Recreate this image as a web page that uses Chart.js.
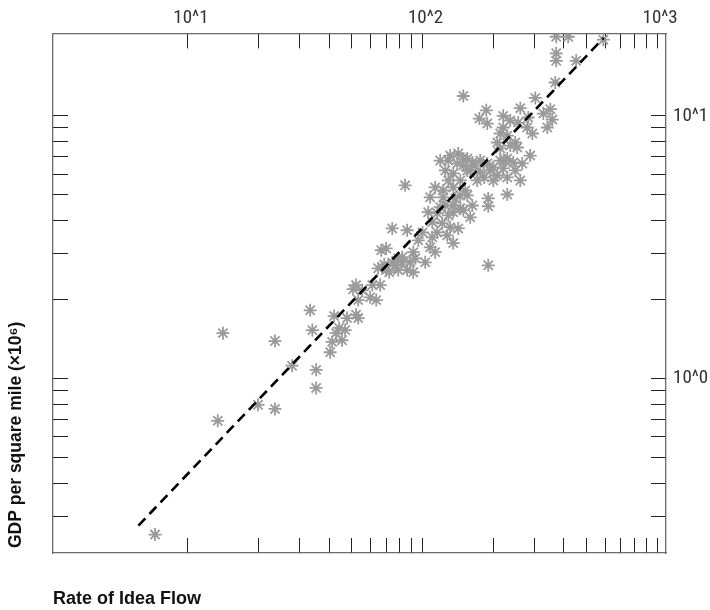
<!DOCTYPE html>
<html>
<head>
<meta charset="utf-8">
<script src="https://cdn.jsdelivr.net/npm/chart.js@4/dist/chart.umd.min.js"></script>
<style>
  html, body { margin: 0; padding: 0; background: #ffffff; }
  #wrap { width: 710px; height: 610px; }
</style>
</head>
<body>
<div id="wrap"><canvas id="c" width="710" height="610"></canvas></div>
<script>
// ---- data ----
const rateOfIdeaFlow = [
  7.24, 13.4, 14.1, 19.9, 23.5, 23.5, 27.8, 33.2, 33.9, 35.2,
  35.2, 40.4, 41.2, 42.0, 42.8, 44.1, 45.4, 46.8, 47.7, 50.6,
  52.1, 53.2, 52.1, 53.2, 59.8, 61.1, 63.5, 64.7, 66.7, 68.7,
  70.0, 72.1, 74.3, 78.8, 81.9, 78.8, 74.3, 70.0, 149.2, 368,
  302.5, 187, 174.6, 188.8, 220.8, 236.6, 255.9, 261.1, 282.3, 327.3,
  350.6, 357.3, 340.4, 293.8, 279.3, 220.8, 214.4, 229.7, 208.3, 248.4,
  253.5, 236.6, 287.7, 214.4, 119, 128.8, 142, 155.2, 140.6, 149.2,
  163, 176.2, 188.8, 214.4, 229.7, 243.6, 266.1, 200.3, 220.8, 125,
  135.2, 155.2, 176.2, 183.2, 208.3, 229.7, 171, 200.3, 128.8, 144.9,
  113.2, 122.5, 84.3, 135.2, 152, 107.8, 122.5, 137.8, 155.2, 190.6,
  229.7, 190.6, 119, 135.2, 144.9, 163, 105.7, 115.5, 135.2, 149.2,
  159.7, 110, 121.3, 100, 86, 115.5, 131.2, 142, 110, 127.4,
  135.2, 107.8, 113.2, 91.3, 81.9, 88.7, 93.1, 102.7, 86, 91.3,
  190.6, 371.5, 417.8, 590, 371.5, 371.5, 451.9,
  131.2, 147.9, 159.7, 167.8, 194.4, 225.3, 248.4, 261.1, 125, 144.9,
  128.8, 95.9, 76.5, 55.3, 66.0
];
const gdpPerSquareMile = [
  0.255, 0.691, 1.49, 0.795, 1.39, 0.767, 1.12, 1.82, 1.53, 1.08,
  0.922, 1.26, 1.38, 1.73, 1.49, 1.56, 1.40, 1.53, 1.70, 2.19,
  2.27, 1.99, 1.75, 1.70, 2.04, 2.27, 1.99, 2.63, 3.08, 2.72,
  3.13, 2.54, 3.73, 2.87, 2.77, 2.59, 2.77, 2.59, 11.9, 13.4,
  11.7, 10.5, 9.77, 9.35, 10.0, 9.60, 9.43, 10.7, 9.86, 10.2,
  10.6, 9.68, 9.03, 8.57, 9.03, 9.03, 8.57, 8.41, 7.92, 7.92,
  7.58, 7.71, 7.06, 7.52, 6.76, 6.76, 7.19, 6.88, 6.59, 6.48,
  6.65, 6.76, 6.59, 6.76, 6.88, 6.65, 6.59, 6.37, 6.31, 6.20,
  6.04, 6.20, 6.10, 5.83, 5.93, 5.83, 5.68, 5.68, 5.68, 5.68,
  5.34, 5.20, 5.44, 5.34, 5.20, 4.90, 4.90, 4.85, 4.98, 4.85,
  5.02, 4.53, 4.49, 4.56, 4.45, 4.56, 4.30, 4.26, 4.30, 4.37,
  4.11, 3.94, 3.90, 3.60, 3.67, 3.60, 3.77, 3.73, 3.45, 3.51,
  3.28, 3.16, 3.03, 3.03, 2.90, 2.77, 2.87, 2.77, 2.59, 2.54,
  2.70, 20.0, 20.0, 19.5, 17.3, 16.2, 16.2,
  7.06, 6.88, 6.20, 6.48, 6.20, 6.76, 6.20, 5.68, 4.56, 4.98,
  4.18, 3.36, 2.70, 2.17, 2.27
];
// fitted (dashed) line end points
const fitX = [6.15, 592];
const fitY = [0.276, 19.8];

// axis ranges and ticks
const xRange = [2.66, 1091];
const yRange = [0.217, 20.6];
const xTickValues = [10, 20, 30, 40, 50, 60, 70, 80, 90, 100, 200, 300, 400, 500, 600, 700, 800, 900, 1000];
const yTickValues = [0.3, 0.4, 0.5, 0.6, 0.7, 0.8, 0.9, 1, 2, 3, 4, 5, 6, 7, 8, 9, 10];
const xTickLabels = { 10: '10^1', 100: '10^2', 1000: '10^3' };
const yTickLabels = { 1: '10^0', 10: '10^1' };
const xTitle = 'Rate of Idea Flow';
const yTitle = 'GDP per square mile (×10⁶)';

// ---- chart ----
const points = rateOfIdeaFlow.map((x, i) => ({ x: x, y: gdpPerSquareMile[i] }));
const fitLine = fitX.map((x, i) => ({ x: x, y: fitY[i] }));

const LABEL_FONT = { family: '"Liberation Sans Narrow", "Roboto Condensed", "Liberation Sans", Arial, sans-serif', size: 19, weight: 'normal' };
const TICK_LEN = -15;

function setTicks(values) {
  return function (scale) { scale.ticks = values.map(v => ({ value: v })); };
}
function fixSize(prop, size) {
  return function (scale) { scale[prop] = size; };
}
const gridCfg = {
  drawOnChartArea: false,
  drawTicks: true,
  tickLength: TICK_LEN,
  tickColor: '#222',
  tickWidth: 1
};
const borderCfg = { display: true, color: '#6a6a6a', width: 1.3 };

const yTitlePlugin = {
  id: 'yTitle',
  afterDraw(chart) {
    const ctx = chart.ctx;
    ctx.save();
    ctx.translate(16, chart.chartArea.bottom - 5);
    ctx.rotate(-Math.PI / 2);
    ctx.font = 'bold 17.5px "Liberation Sans", Arial, sans-serif';
    ctx.fillStyle = '#111';
    ctx.textAlign = 'left';
    ctx.textBaseline = 'middle';
    ctx.fillText(yTitle, 0, 0);
    ctx.restore();
  }
};

new Chart(document.getElementById('c'), {
  type: 'scatter',
  data: {
    datasets: [
      {
        type: 'line',
        label: 'fit',
        data: fitLine,
        borderColor: '#000',
        borderWidth: 2.6,
        borderDash: [10, 6],
        pointRadius: 0,
        fill: false,
        order: 0,
        xAxisID: 'x',
        yAxisID: 'y'
      },
      {
        label: 'cities',
        data: points,
        pointStyle: 'star',
        pointRadius: 6.5,
        pointHoverRadius: 6.5,
        borderColor: '#9a9a9a',
        backgroundColor: '#9a9a9a',
        pointBorderWidth: 1.8,
        borderWidth: 1.8,
        order: 1,
        xAxisID: 'x',
        yAxisID: 'y'
      }
    ]
  },
  options: {
    responsive: false,
    animation: false,
    devicePixelRatio: 1,
    layout: { padding: 0 },
    plugins: {
      legend: { display: false },
      tooltip: { enabled: false },
      title: { display: false }
    },
    scales: {
      x: {
        type: 'logarithmic',
        position: 'top',
        min: xRange[0],
        max: xRange[1],
        afterBuildTicks: setTicks(xTickValues),
        afterFit: fixSize('height', 33),
        grid: gridCfg,
        border: borderCfg,
        ticks: {
          autoSkip: false,
          maxRotation: 0,
          minRotation: 0,
          padding: 19,
          labelOffset: 3,
          color: '#333',
          font: LABEL_FONT,
          callback: (v) => xTickLabels[v] || ''
        }
      },
      xb: {
        type: 'logarithmic',
        position: 'bottom',
        min: xRange[0],
        max: xRange[1],
        afterBuildTicks: setTicks(xTickValues),
        afterFit: fixSize('height', 57),
        grid: gridCfg,
        border: borderCfg,
        ticks: { display: false, autoSkip: false },
        title: {
          display: true,
          text: xTitle,
          align: 'start',
          color: '#111',
          font: { family: '"Liberation Sans", Arial, sans-serif', size: 18, weight: 'bold' },
          padding: { top: 0, bottom: 0 }
        }
      },
      y: {
        type: 'logarithmic',
        position: 'right',
        min: yRange[0],
        max: yRange[1],
        afterBuildTicks: setTicks(yTickValues),
        afterFit: fixSize('width', 44),
        grid: gridCfg,
        border: borderCfg,
        ticks: {
          autoSkip: false,
          padding: 22,
          color: '#333',
          font: LABEL_FONT,
          callback: (v) => yTickLabels[v] || ''
        }
      },
      yl: {
        type: 'logarithmic',
        position: 'left',
        min: yRange[0],
        max: yRange[1],
        afterBuildTicks: setTicks(yTickValues),
        afterFit: fixSize('width', 53),
        grid: gridCfg,
        border: borderCfg,
        ticks: { display: false, autoSkip: false }
      }
    }
  },
  plugins: [yTitlePlugin]
});
</script>
</body>
</html>
